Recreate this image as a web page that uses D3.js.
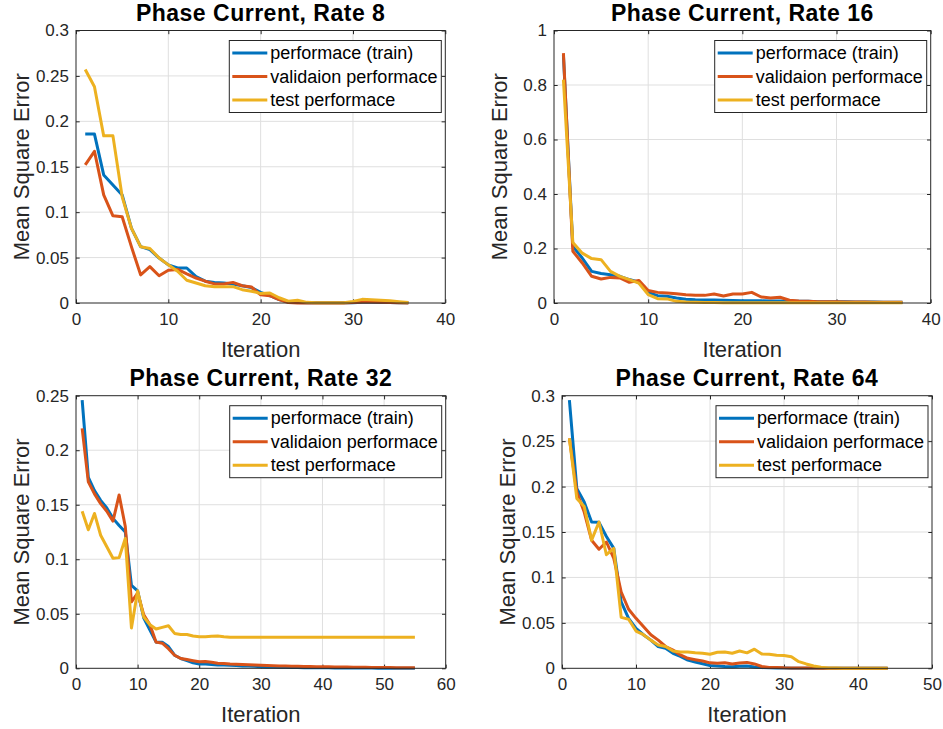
<!DOCTYPE html>
<html>
<head>
<meta charset="utf-8">
<script src="https://cdn.jsdelivr.net/npm/d3@7"></script>
<style>
  body { margin: 0; background: #fff; }
  svg { display: block; font-family: "Liberation Sans", Arial, sans-serif; }
  .tick text { fill: #262626; font-size: 17px; }
</style>
</head>
<body>
<div id="chart"></div>
<script>
// series names for the legend
var seriesNames = ["performace (train)", "validaion performace", "test performace"];
var seriesColors = ["#0072BD", "#D95319", "#EDB120"];

// Rate 8
var train8 = [0.186, 0.186, 0.141, 0.130, 0.119, 0.0825, 0.062, 0.0587, 0.0495, 0.042, 0.0385, 0.0385, 0.029, 0.024, 0.0227, 0.022, 0.021, 0.019, 0.017, 0.0117, 0.008, 0.0037, 0.001, 0.0005, 0.0003, 0.0002, 0.0002, 0.0002, 0.0002, 0.0003, 0.0008, 0.0008, 0.0006, 0.0005, 0.0003, 0.0002];
var valid8 = [0.152, 0.167, 0.119, 0.096, 0.095, 0.062, 0.031, 0.040, 0.030, 0.036, 0.037, 0.032, 0.0275, 0.024, 0.021, 0.021, 0.0227, 0.019, 0.0176, 0.009, 0.008, 0.0037, 0.0005, 0, 0, 0, 0, 0, 0, 0.0005, 0.001, 0.001, 0.0008, 0.0005, 0.0003, 0];
var test8 = [0.257, 0.238, 0.184, 0.184, 0.117, 0.0825, 0.062, 0.060, 0.0495, 0.042, 0.035, 0.025, 0.022, 0.019, 0.018, 0.018, 0.018, 0.0147, 0.013, 0.0105, 0.011, 0.0058, 0.002, 0.003, 0.0007, 0.0003, 0.0003, 0.0003, 0.0003, 0.0018, 0.004, 0.0037, 0.003, 0.0025, 0.0015, 0.0005];

// Rate 16
var train16 = [0.91, 0.208, 0.165, 0.116, 0.108, 0.104, 0.098, 0.086, 0.076, 0.039, 0.027, 0.025, 0.018, 0.014, 0.012, 0.011, 0.011, 0.010, 0.009, 0.008, 0.008, 0.008, 0.007, 0.007, 0.006, 0.006, 0.006, 0.005, 0.005, 0.005, 0.005, 0.004, 0.004, 0.004, 0.003, 0.003, 0.003];
var valid16 = [0.917, 0.19, 0.147, 0.098, 0.088, 0.094, 0.092, 0.076, 0.083, 0.046, 0.039, 0.037, 0.034, 0.030, 0.028, 0.028, 0.033, 0.026, 0.033, 0.033, 0.039, 0.022, 0.018, 0.021, 0.010, 0.007, 0.006, 0.005, 0.005, 0.005, 0.004, 0.004, 0.004, 0.003, 0.003, 0.003, 0.003];
var test16 = [0.82, 0.222, 0.183, 0.163, 0.159, 0.116, 0.098, 0.086, 0.073, 0.031, 0.016, 0.015, 0.006, 0.004, 0.003, 0.002, 0.0015, 0.001, 0.001, 0.001, 0.001, 0.001, 0.001, 0.001, 0.001, 0.001, 0.001, 0.001, 0.001, 0.001, 0.001, 0.001, 0.001, 0.001, 0.001, 0.001, 0.001];

// Rate 32
var train32 = [0.246, 0.175, 0.163, 0.154, 0.147, 0.1375, 0.131, 0.125, 0.076, 0.071, 0.046, 0.035, 0.024, 0.024, 0.020, 0.012, 0.009, 0.007, 0.005, 0.004, 0.004, 0.0035, 0.003, 0.003, 0.0028, 0.0025, 0.0022, 0.002, 0.0018, 0.0015, 0.0013, 0.0012, 0.001, 0.0009, 0.0008, 0.0007, 0.0006, 0.0005, 0.0005, 0.0004, 0.0004, 0.0003, 0.0003, 0.0003, 0.0002, 0.0002, 0.0002, 0.0002, 0.0001, 0.0001, 0.0001, 0.0001, 0.0001, 0.0001, 0.0001];
var valid32 = [0.22, 0.171, 0.160, 0.151, 0.144, 0.135, 0.159, 0.13, 0.061, 0.069, 0.049, 0.040, 0.024, 0.023, 0.018, 0.012, 0.009, 0.008, 0.007, 0.006, 0.0062, 0.0055, 0.0046, 0.0045, 0.004, 0.0037, 0.0035, 0.0032, 0.003, 0.0028, 0.0026, 0.0024, 0.0022, 0.002, 0.0019, 0.0018, 0.0017, 0.0016, 0.0015, 0.0015, 0.0014, 0.0013, 0.0012, 0.0011, 0.001, 0.001, 0.0009, 0.0008, 0.0008, 0.0007, 0.0007, 0.0006, 0.0006, 0.0005, 0.0005];
var test32 = [0.144, 0.127, 0.142, 0.122, 0.1115, 0.101, 0.1015, 0.119, 0.037, 0.071, 0.047, 0.040, 0.036, 0.0375, 0.039, 0.032, 0.031, 0.031, 0.0296, 0.029, 0.029, 0.0295, 0.0297, 0.029, 0.0285, 0.0284, 0.0284, 0.0284, 0.0284, 0.0284, 0.0284, 0.0284, 0.0284, 0.0284, 0.0284, 0.0284, 0.0284, 0.0284, 0.0284, 0.0284, 0.0284, 0.0284, 0.0284, 0.0284, 0.0284, 0.0284, 0.0284, 0.0284, 0.0284, 0.0284, 0.0284, 0.0284, 0.0284, 0.0284, 0.0284];

// Rate 64
var train64 = [0.295, 0.198, 0.183, 0.161, 0.1606, 0.145, 0.132, 0.073, 0.055, 0.044, 0.037, 0.031, 0.024, 0.022, 0.0165, 0.013, 0.009, 0.007, 0.005, 0.003, 0.0025, 0.002, 0.0018, 0.0022, 0.0025, 0.0015, 0.0008, 0.0005, 0.0003, 0.0002, 0.0001, 0.0001, 0.0001, 0.0001, 0, 0, 0, 0, 0, 0, 0, 0, 0, 0];
var valid64 = [0.253, 0.194, 0.172, 0.141, 0.131, 0.139, 0.121, 0.084, 0.065, 0.055, 0.046, 0.037, 0.031, 0.024, 0.020, 0.0147, 0.011, 0.0095, 0.008, 0.006, 0.0055, 0.0062, 0.0048, 0.0058, 0.0065, 0.0048, 0.002, 0.001, 0.0008, 0.0005, 0.0004, 0.0003, 0.0002, 0.0002, 0.0001, 0.0001, 0.0001, 0.0001, 0.0001, 0.0001, 0.0001, 0.0001, 0.0001, 0.0001];
var test64 = [0.253, 0.187, 0.178, 0.141, 0.161, 0.125, 0.132, 0.056, 0.054, 0.041, 0.037, 0.031, 0.0257, 0.024, 0.019, 0.018, 0.018, 0.017, 0.0165, 0.0154, 0.0176, 0.018, 0.0165, 0.019, 0.017, 0.021, 0.0158, 0.0154, 0.0143, 0.014, 0.0128, 0.0073, 0.0048, 0.0026, 0.0011, 0.0004, 0.0002, 0.0001, 0.0001, 0.0001, 0.0001, 0.0001, 0.0001, 0.0001];

var titles = ["Phase Current, Rate 8", "Phase Current, Rate 16", "Phase Current, Rate 32", "Phase Current, Rate 64"];
var xMaxes = [40, 40, 60, 50];
var yMaxes = [0.3, 1, 0.25, 0.3];
var xTickSteps = [10, 10, 10, 10];
var yTickSteps = [0.05, 0.2, 0.05, 0.05];

// axes boxes in pixels: left, top, right, bottom
var boxes = [
  [76, 30.5, 445.3, 303],
  [554, 30.5, 930.7, 303],
  [76, 395.7, 445.7, 668.3],
  [562, 395.7, 932, 668.3]
];

var panels = [
  { train: train8, valid: valid8, test: test8 },
  { train: train16, valid: valid16, test: test16 },
  { train: train32, valid: valid32, test: test32 },
  { train: train64, valid: valid64, test: test64 }
];

var W = 943, H = 729;
var svg = d3.select("#chart").append("svg")
    .attr("width", W)
    .attr("height", H);

var fmt = function(v) { return String(+v.toFixed(3)); };

panels.forEach(function(p, i) {
    var b = boxes[i];
    var x = d3.scaleLinear().domain([0, xMaxes[i]]).range([b[0], b[2]]);
    var y = d3.scaleLinear().domain([0, yMaxes[i]]).range([b[3], b[1]]);
    var xt = d3.range(0, xMaxes[i] + 1e-9, xTickSteps[i]);
    var yt = d3.range(0, yMaxes[i] + 1e-9, yTickSteps[i]);
    var w = b[2] - b[0], h = b[3] - b[1];

    var g = svg.append("g");

    // grid
    g.append("g").selectAll("line").data(xt.slice(1, -1)).enter().append("line")
        .attr("x1", function(d) { return x(d); }).attr("x2", function(d) { return x(d); })
        .attr("y1", b[1]).attr("y2", b[3])
        .attr("stroke", "#dfdfdf").attr("stroke-width", 1);
    g.append("g").selectAll("line").data(yt.slice(1, -1)).enter().append("line")
        .attr("y1", function(d) { return y(d); }).attr("y2", function(d) { return y(d); })
        .attr("x1", b[0]).attr("x2", b[2])
        .attr("stroke", "#dfdfdf").attr("stroke-width", 1);

    // axes (ticks point inward, like matlab)
    var tl = 3.7;
    var clean = function(s) { s.select(".domain").remove(); s.selectAll(".tick line").attr("stroke", "#262626"); };
    g.append("g")
        .attr("transform", "translate(0," + b[3] + ")")
        .call(d3.axisBottom(x).tickValues(xt).tickFormat(fmt).tickSizeInner(-tl).tickSizeOuter(0).tickPadding(10))
        .call(clean);
    g.append("g")
        .attr("transform", "translate(0," + b[1] + ")")
        .call(d3.axisTop(x).tickValues(xt).tickFormat("").tickSizeInner(-tl).tickSizeOuter(0))
        .call(clean);
    g.append("g")
        .attr("transform", "translate(" + b[0] + ",0)")
        .call(d3.axisLeft(y).tickValues(yt).tickFormat(fmt).tickSizeInner(-tl).tickSizeOuter(0).tickPadding(7))
        .call(clean);
    g.append("g")
        .attr("transform", "translate(" + b[2] + ",0)")
        .call(d3.axisRight(y).tickValues(yt).tickFormat("").tickSizeInner(-tl).tickSizeOuter(0))
        .call(clean);

    // lines
    var line = d3.line()
        .x(function(d, k) { return x(k + 1); })
        .y(function(d) { return y(d); });
    [p.train, p.valid, p.test].forEach(function(s, k) {
        g.append("path")
            .datum(s)
            .attr("d", line)
            .attr("fill", "none")
            .attr("stroke", seriesColors[k])
            .attr("stroke-width", 3)
            .attr("stroke-linejoin", "round");
    });

    // box
    g.append("rect")
        .attr("x", b[0]).attr("y", b[1]).attr("width", w).attr("height", h)
        .attr("fill", "none").attr("stroke", "#262626").attr("stroke-width", 1);

    // title and labels
    g.append("text")
        .attr("x", b[0] + w / 2).attr("y", b[1] - 10)
        .attr("text-anchor", "middle")
        .attr("font-weight", "bold").attr("font-size", 23)
        .attr("letter-spacing", 0.5)
        .attr("fill", "#000")
        .text(titles[i]);
    g.append("text")
        .attr("x", b[0] + w / 2).attr("y", b[3] + 54)
        .attr("text-anchor", "middle")
        .attr("font-size", 22).attr("fill", "#262626")
        .text("Iteration");
    g.append("text")
        .attr("transform", "translate(" + (b[0] - 47) + "," + (b[1] + h / 2) + ") rotate(-90)")
        .attr("text-anchor", "middle")
        .attr("font-size", 22).attr("fill", "#262626")
        .text("Mean Square Error");

    // legend
    var lw = 212, lh = 72;
    var lx = b[2] - 4 - lw, ly = b[1] + 10;
    var lg = g.append("g").attr("transform", "translate(" + lx + "," + ly + ")");
    lg.append("rect")
        .attr("width", lw).attr("height", lh)
        .attr("fill", "#fff").attr("stroke", "#262626").attr("stroke-width", 1);
    seriesNames.forEach(function(name, k) {
        var ry = 12.5 + k * 23.5;
        lg.append("line")
            .attr("x1", 3).attr("x2", 38).attr("y1", ry).attr("y2", ry)
            .attr("stroke", seriesColors[k]).attr("stroke-width", 3);
        lg.append("text")
            .attr("x", 41).attr("y", ry + 6)
            .attr("font-size", 18).attr("fill", "#000")
            .text(name);
    });
});
</script>
</body>
</html>
